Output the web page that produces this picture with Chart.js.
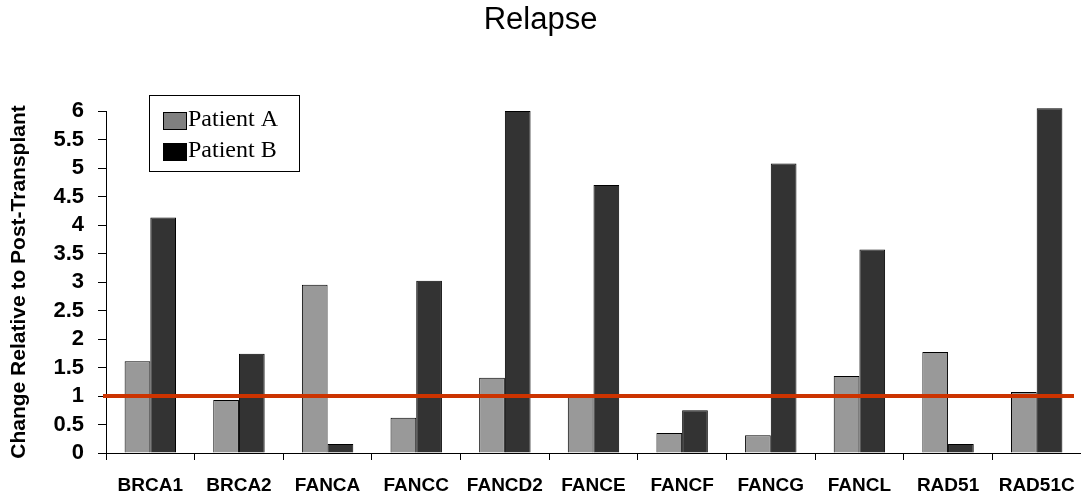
<!DOCTYPE html>
<html>
<head>
<meta charset="utf-8">
<script src="https://cdn.jsdelivr.net/npm/chart.js@4"></script>
<style>
  html, body { margin: 0; padding: 0; background: #fff; }
  #wrap { width: 1081px; height: 496px; }
</style>
</head>
<body>
<div id="wrap"><canvas id="c" width="1081" height="496"></canvas></div>
<script>
const categories = ['BRCA1','BRCA2','FANCA','FANCC','FANCD2','FANCE','FANCF','FANCG','FANCL','RAD51','RAD51C'];
const patientA = [1.61, 0.93, 2.95, 0.62, 1.32, 1.00, 0.35, 0.31, 1.35, 1.77, 1.07];
const patientB = [4.13, 1.74, 0.16, 3.02, 6.00, 4.70, 0.75, 5.08, 3.57, 0.16, 6.05];
const seriesNames = ['Patient A', 'Patient B'];
const yTickValues = [0, 0.5, 1, 1.5, 2, 2.5, 3, 3.5, 4, 4.5, 5, 5.5, 6];
const yTickLabels = ['0','0.5','1','1.5','2','2.5','3','3.5','4','4.5','5','5.5','6'];
const referenceLevel = 1;
const chartTitle = 'Relapse';
const yAxisTitle = 'Change Relative to Post-Transplant';

const legendSwatches = ['#808080', '#000000'];

const refLinePlugin = {
  id: 'refLine',
  afterDatasetsDraw(chart) {
    const { ctx, chartArea, scales } = chart;
    const y = scales.y.getPixelForValue(referenceLevel);
    ctx.save();
    ctx.strokeStyle = '#CC3300';
    ctx.lineWidth = 4;
    ctx.beginPath();
    ctx.moveTo(chartArea.left - 3, y);
    ctx.lineTo(chartArea.right - 7, y);
    ctx.stroke();
    ctx.restore();
  }
};

const boxLegendPlugin = {
  id: 'boxLegend',
  afterDraw(chart) {
    const ctx = chart.ctx;
    const bx = 149.5, by = 95.5, bw = 150, bh = 76;
    ctx.save();
    ctx.fillStyle = '#fff';
    ctx.fillRect(bx, by, bw, bh);
    ctx.strokeStyle = '#000';
    ctx.lineWidth = 1;
    ctx.strokeRect(bx, by, bw, bh);
    ctx.font = '24px "Liberation Serif", "Times New Roman", serif';
    ctx.textBaseline = 'alphabetic';
    ctx.textAlign = 'left';
    chart.data.datasets.forEach((ds, i) => {
      const rowTop = 112 + i * 31;
      ctx.fillStyle = legendSwatches[i];
      ctx.fillRect(163.5, rowTop + 0.5, 23, 17);
      ctx.strokeStyle = '#000';
      ctx.strokeRect(163.5, rowTop + 0.5, 23, 17);
      ctx.fillStyle = '#000';
      ctx.fillText(ds.label, 188, rowTop + 14);
    });
    ctx.restore();
  }
};

new Chart(document.getElementById('c'), {
  type: 'bar',
  data: {
    labels: categories,
    datasets: [
      { label: seriesNames[0], data: patientA, backgroundColor: '#999999', borderColor: '#000000', borderWidth: 1, clip: false },
      { label: seriesNames[1], data: patientB, backgroundColor: '#333333', borderColor: '#000000', borderWidth: 1, clip: false }
    ]
  },
  options: {
    responsive: false,
    animation: false,
    devicePixelRatio: 1,
    layout: { padding: { left: 0, right: 0, top: 0, bottom: 0 } },
    datasets: { bar: { categoryPercentage: 0.58, barPercentage: 1.0 } },
    plugins: {
      legend: { display: false },
      tooltip: { enabled: false },
      title: {
        display: true,
        text: chartTitle,
        color: '#000',
        font: { family: '"Liberation Sans", Arial, sans-serif', size: 31, weight: 'normal' },
        padding: { top: 2, bottom: 71.8 }
      }
    },
    scales: {
      x: {
        offset: true,
        afterFit(scale) { scale.height = 43; scale.paddingRight = 0; scale.paddingLeft = 0; },
        grid: { display: true, offset: true, drawOnChartArea: false, drawTicks: true, tickLength: 7, color: '#000', lineWidth: 1 },
        border: { display: true, color: '#000', width: 1 },
        ticks: {
          color: '#000',
          padding: 14,
          maxRotation: 0,
          autoSkip: false,
          font: { family: '"Liberation Sans", Arial, sans-serif', size: 19, weight: 'bold' }
        }
      },
      y: {
        min: 0,
        max: 6,
        afterBuildTicks(scale) {
          scale.ticks = yTickValues.map(v => ({ value: v }));
        },
        afterFit(scale) { scale.width = 106; },
        grid: { display: true, drawOnChartArea: false, drawTicks: true, tickLength: 8, color: '#000', lineWidth: 1 },
        border: { display: true, color: '#000', width: 1 },
        ticks: {
          color: '#000',
          padding: 14,
          autoSkip: false,
          font: { family: '"Liberation Sans", Arial, sans-serif', size: 22, weight: 'bold' },
          callback(value) {
            const idx = yTickValues.indexOf(value);
            return idx >= 0 ? yTickLabels[idx] : '';
          }
        },
        title: {
          display: true,
          text: yAxisTitle,
          color: '#000',
          font: { family: '"Liberation Sans", Arial, sans-serif', size: 21, weight: 'bold' },
          padding: { top: 7, bottom: 5 }
        }
      }
    }
  },
  plugins: [refLinePlugin, boxLegendPlugin]
});
</script>
</body>
</html>
